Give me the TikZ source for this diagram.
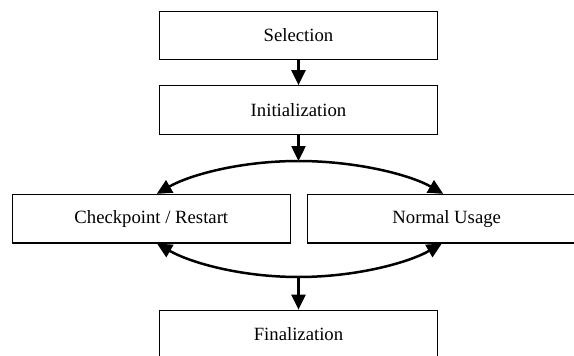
\documentclass[tikz,border=0pt]{standalone}
\usepackage{fontspec}
\setmainfont{Liberation Serif}
\usetikzlibrary{arrows.meta}
\begin{document}
\begin{tikzpicture}[x=1pt,y=-1pt,
  phase/.style={draw=black, line width=1.2pt, rectangle, minimum width=278pt,
    minimum height=48.5pt, inner sep=0pt, font=\fontsize{18.7}{22}\selectfont},
  flow/.style={line width=2.5pt, -{Triangle[width=14pt,length=15pt]}}]
  \useasboundingbox (0,0) rectangle (574,356);
  \clip (0,0) rectangle (574,356);

  % phases of the life cycle
  \node[phase] (sel)  at (298.5,35.5)  {Selection};
  \node[phase] (init) at (298.5,110)   {Initialization};
  \node[phase] (cp)   at (151.3,218.7) {Checkpoint / Restart};
  \node[phase] (nu)   at (446.7,218.7) {Normal Usage};
  \node[phase] (fin)  at (298.5,334.5) {Finalization};

  % branching and joining points
  \coordinate (split) at (298.5,161);
  \coordinate (merge) at (298.5,277);

  % straight transitions
  \draw[flow] (sel.south) -- (init.north);
  \draw[flow] (init.south) -- (split);
  \draw[flow] (merge) -- (fin.north);

  % split into the two running modes
  \draw[flow] (split) .. controls +(-58,0) and +(33,-19) .. ([xshift=5.4pt]cp.north);
  \draw[flow] (split) .. controls +(58,0) and +(-33,-19) .. ([xshift=-3.4pt]nu.north);

  % back from the running modes to the join
  \draw[flow] (merge) .. controls +(-58,0) and +(33,19) .. ([xshift=5.7pt]cp.south);
  \draw[flow] (merge) .. controls +(58,0) and +(-33,19) .. ([xshift=-4.9pt]nu.south);
\end{tikzpicture}
\end{document}
